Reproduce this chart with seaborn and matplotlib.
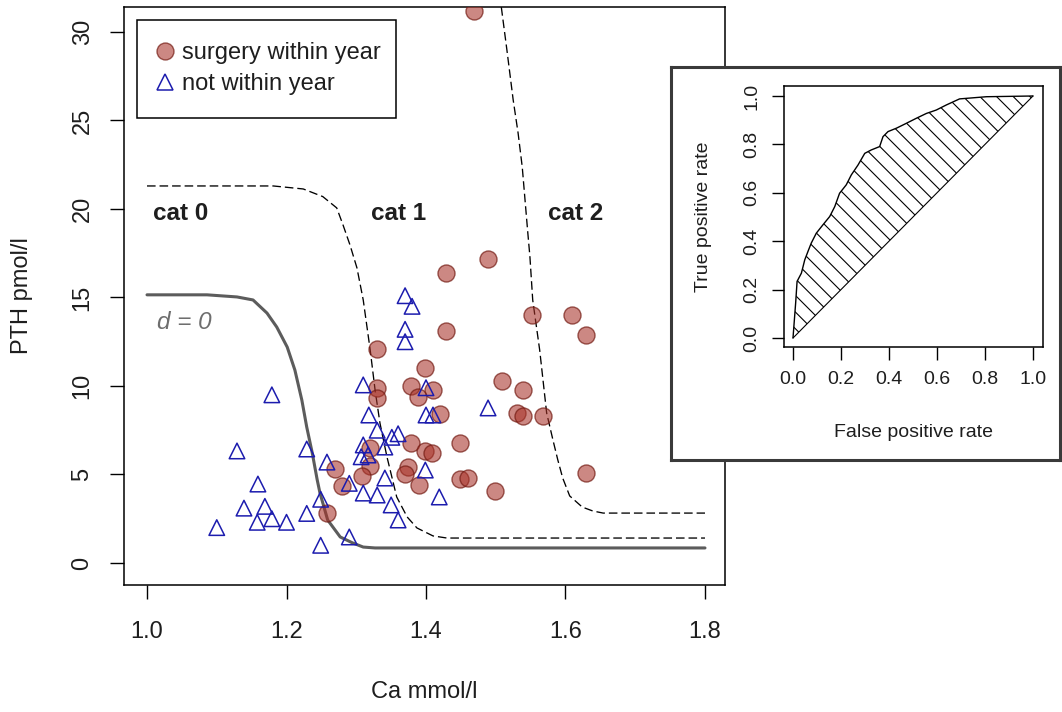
import matplotlib
matplotlib.use("Agg")
import matplotlib.pyplot as plt
from matplotlib.lines import Line2D
import seaborn as sns

# surgery within year (filled circles)
surg_ca = [1.469, 1.489, 1.429, 1.552, 1.609, 1.629, 1.429, 1.33, 1.399, 1.379,
           1.41, 1.389, 1.33, 1.33, 1.509, 1.539, 1.53, 1.539, 1.568, 1.42,
           1.449, 1.379, 1.399, 1.409, 1.32, 1.32, 1.374, 1.37, 1.308, 1.39,
           1.449, 1.46, 1.499, 1.27, 1.28, 1.258, 1.629]
surg_pth = [31.2, 17.2, 16.4, 14.0, 14.0, 12.9, 13.1, 12.1, 11.0, 10.0,
            9.8, 9.4, 9.9, 9.3, 10.3, 9.8, 8.5, 8.3, 8.3, 8.4,
            6.8, 6.8, 6.3, 6.2, 6.5, 5.5, 5.4, 5.0, 4.9, 4.4,
            4.75, 4.8, 4.07, 5.3, 4.35, 2.8, 5.08]

# not within year (open triangles)
not_ca = [1.10, 1.129, 1.159, 1.139, 1.169, 1.158, 1.179, 1.20, 1.179, 1.229,
          1.229, 1.249, 1.249, 1.258, 1.29, 1.29, 1.37, 1.38, 1.37, 1.37,
          1.31, 1.40, 1.318, 1.33, 1.40, 1.41, 1.351, 1.36, 1.341, 1.31,
          1.307, 1.317, 1.341, 1.399, 1.31, 1.33, 1.35, 1.36, 1.419, 1.489]
not_pth = [2.0, 6.33, 4.46, 3.1, 3.2, 2.3, 2.5, 2.3, 9.5, 6.44,
           2.8, 3.6, 1.0, 5.7, 4.5, 1.47, 15.1, 14.5, 13.2, 12.5,
           10.06, 9.9, 8.36, 7.5, 8.36, 8.36, 7.1, 7.3, 6.55, 6.67,
           6.0, 6.1, 4.8, 5.25, 3.95, 3.84, 3.28, 2.43, 3.73, 8.76]

# boundary curves
d0_ca = [1.0, 1.086, 1.129, 1.152, 1.172, 1.186, 1.201, 1.212, 1.222, 1.229,
         1.237, 1.244, 1.248, 1.259, 1.277, 1.295, 1.31, 1.327, 1.8]
d0_pth = [15.15, 15.15, 15.03, 14.86, 14.12, 13.33, 12.2, 10.9, 9.2, 7.68,
          6.2, 4.7, 3.95, 2.43, 1.47, 1.13, 0.9, 0.85, 0.85]

cat01_ca = [1.0, 1.181, 1.224, 1.252, 1.272, 1.281, 1.291, 1.301, 1.31, 1.32,
            1.327, 1.334, 1.344, 1.358, 1.373, 1.387, 1.41, 1.43, 1.8]
cat01_pth = [21.3, 21.3, 21.13, 20.7, 20.06, 19.1, 17.97, 16.67, 14.86, 12.03,
             9.77, 7.9, 6.0, 3.73, 2.6, 1.98, 1.53, 1.41, 1.41]

cat12_ca = [1.508, 1.516, 1.525, 1.532, 1.538, 1.542, 1.546, 1.549, 1.553, 1.563,
            1.573, 1.582, 1.589, 1.596, 1.606, 1.624, 1.639, 1.654, 1.8]
cat12_pth = [31.4, 28.98, 26.16, 24.3, 22.37, 20.5, 18.64, 17.3, 14.86, 12.03,
             8.47, 6.95, 5.82, 4.8, 3.79, 3.16, 2.94, 2.82, 2.82]

# ROC curve (inset)
roc_fpr = [0.0, 0.011, 0.017, 0.035, 0.049, 0.0625, 0.076, 0.097, 0.125, 0.153,
           0.174, 0.194, 0.222, 0.243, 0.271, 0.299, 0.326, 0.361, 0.375, 0.396,
           0.431, 0.472, 0.514, 0.556, 0.597, 0.639, 0.694, 0.806, 1.0]
roc_tpr = [0.0, 0.144, 0.234, 0.268, 0.323, 0.358, 0.392, 0.433, 0.468, 0.502,
           0.543, 0.598, 0.633, 0.674, 0.715, 0.763, 0.777, 0.791, 0.832, 0.853,
           0.867, 0.887, 0.908, 0.928, 0.942, 0.963, 0.988, 0.997, 1.0]

sns.set_style("white")
plt.rcParams["font.family"] = ["Liberation Sans", "DejaVu Sans"]
plt.rcParams["hatch.linewidth"] = 0.8

W, H = 1062, 712
fig = plt.figure(figsize=(W / 100, H / 100), dpi=100)


def px_axes(left, top, right, bottom):
    return fig.add_axes([left / W, 1 - bottom / H, (right - left) / W, (bottom - top) / H])


TXT = "#1e1e1e"
FS = 17
circ_face = (0.66, 0.2, 0.16, 0.58)
circ_edge = (0.45, 0.1, 0.07, 0.7)
tri_col = "#1c1cae"

# ---- main plot ----
ax = px_axes(124, 7, 725, 585)

sns.lineplot(x=d0_ca, y=d0_pth, color="#5c5c5c", linewidth=2.2,
             sort=False, estimator=None, ax=ax)
sns.lineplot(x=cat01_ca, y=cat01_pth, color="black", linewidth=0.95,
             linestyle=(0, (6.5, 3)), sort=False, estimator=None, ax=ax)
sns.lineplot(x=cat12_ca, y=cat12_pth, color="black", linewidth=0.95,
             linestyle=(0, (6.5, 3)), sort=False, estimator=None, ax=ax)

sns.scatterplot(x=surg_ca, y=surg_pth, marker="o", s=150, facecolor=circ_face,
                edgecolor=circ_edge, linewidth=1.0, ax=ax, zorder=3)
sns.scatterplot(x=not_ca, y=not_pth, marker="^", s=125, facecolors="none",
                edgecolor=tri_col, linewidth=1.1, ax=ax, zorder=4)

ax.set_xlim(0.967, 1.8287)
ax.set_ylim(-1.243, 31.41)
ax.set_xticks([1.0, 1.2, 1.4, 1.6, 1.8])
ax.set_xticklabels(["1.0", "1.2", "1.4", "1.6", "1.8"])
ax.set_yticks([0, 5, 10, 15, 20, 25, 30])
ax.set_yticklabels(["0", "5", "10", "15", "20", "25", "30"])
ax.tick_params(axis="both", bottom=True, left=True, length=10, width=1.0,
               color="black", labelsize=FS, labelcolor=TXT, direction="out")
ax.tick_params(axis="x", pad=16)
ax.tick_params(axis="y", pad=11.9, labelrotation=90)
for lbl in ax.get_yticklabels():
    lbl.set_va("center")
for sp in ax.spines.values():
    sp.set_color("black")
    sp.set_linewidth(1.1)

ax.set_xlabel("Ca mmol/l", fontsize=FS, color=TXT, va="center")
ax.xaxis.set_label_coords(0.5, (585 - 692) / 578)
ax.set_ylabel("PTH pmol/l", fontsize=FS, color=TXT, va="center")
ax.yaxis.set_label_coords((22 - 124) / 601, 0.5)

ax.text(1.0487, 19.77, "cat 0", fontsize=17.5, fontweight="bold", color=TXT,
        ha="center", va="center")
ax.text(1.36, 19.77, "cat 1", fontsize=17.5, fontweight="bold", color=TXT,
        ha="center", va="center")
ax.text(1.615, 19.77, "cat 2", fontsize=17.5, fontweight="bold", color=TXT,
        ha="center", va="center")
ax.text(1.053, 13.6, "d = 0", fontsize=17.5, fontstyle="italic", color="#6e6e6e",
        ha="center", va="center")

handles = [
    Line2D([], [], marker="o", linestyle="none", markersize=12.2,
           markerfacecolor=circ_face, markeredgecolor=circ_edge),
    Line2D([], [], marker="^", linestyle="none", markersize=11,
           markerfacecolor="none", markeredgecolor=tri_col, markeredgewidth=1.1),
]
leg = ax.legend(handles, ["surgery within year", "not within year"],
                loc="upper left", bbox_to_anchor=(13 / 601, (578 - 104) / 578, 259 / 601, 91 / 578),
                mode="expand", borderaxespad=0, fontsize=FS, frameon=True,
                fancybox=False, framealpha=1, edgecolor="black",
                borderpad=0.95, labelspacing=0.38, handlelength=0.45,
                handletextpad=0.52)
leg.get_frame().set_linewidth(1.1)
for t in leg.get_texts():
    t.set_color(TXT)

# ---- inset frame ----
ax_frame = px_axes(671, 67, 1060, 460)
ax_frame.set_facecolor("white")
ax_frame.set_xticks([])
ax_frame.set_yticks([])
for sp in ax_frame.spines.values():
    sp.set_color("#3a3a3a")
    sp.set_linewidth(2.2)

# ---- ROC inset ----
ax_roc = px_axes(784, 86, 1043, 347)
ax_roc.set_facecolor("white")
ax_roc.fill_between(roc_fpr, roc_tpr, roc_fpr, facecolor="none", hatch="\\\\",
                    edgecolor="black", linewidth=0)
sns.lineplot(x=roc_fpr, y=roc_tpr, color="black", linewidth=1.0,
             sort=False, estimator=None, ax=ax_roc)
sns.lineplot(x=[0, 1], y=[0, 1], color="black", linewidth=0.8,
             sort=False, estimator=None, ax=ax_roc)

ax_roc.set_xlim(-0.0375, 1.0417)
ax_roc.set_ylim(-0.0372, 1.0413)
roc_ticks = [0.0, 0.2, 0.4, 0.6, 0.8, 1.0]
roc_tick_labels = ["0.0", "0.2", "0.4", "0.6", "0.8", "1.0"]
ax_roc.set_xticks(roc_ticks)
ax_roc.set_xticklabels(roc_tick_labels)
ax_roc.set_yticks(roc_ticks)
ax_roc.set_yticklabels(roc_tick_labels)
ax_roc.tick_params(axis="both", bottom=True, left=True, length=9, width=1.0,
                   color="black", labelsize=14, labelcolor=TXT, direction="out")
ax_roc.tick_params(axis="x", pad=8.5)
ax_roc.tick_params(axis="y", pad=8, labelrotation=90)
for lbl in ax_roc.get_yticklabels():
    lbl.set_va("center")
for sp in ax_roc.spines.values():
    sp.set_color("black")
    sp.set_linewidth(1.1)

ax_roc.set_xlabel("False positive rate", fontsize=14, color=TXT, va="center")
ax_roc.xaxis.set_label_coords(0.5, (347 - 432) / 261)
ax_roc.set_ylabel("True positive rate", fontsize=14, color=TXT, va="center")
ax_roc.yaxis.set_label_coords((703 - 784) / 259, 0.5)

fig.savefig("out.png", dpi=100)
plt.close(fig)
